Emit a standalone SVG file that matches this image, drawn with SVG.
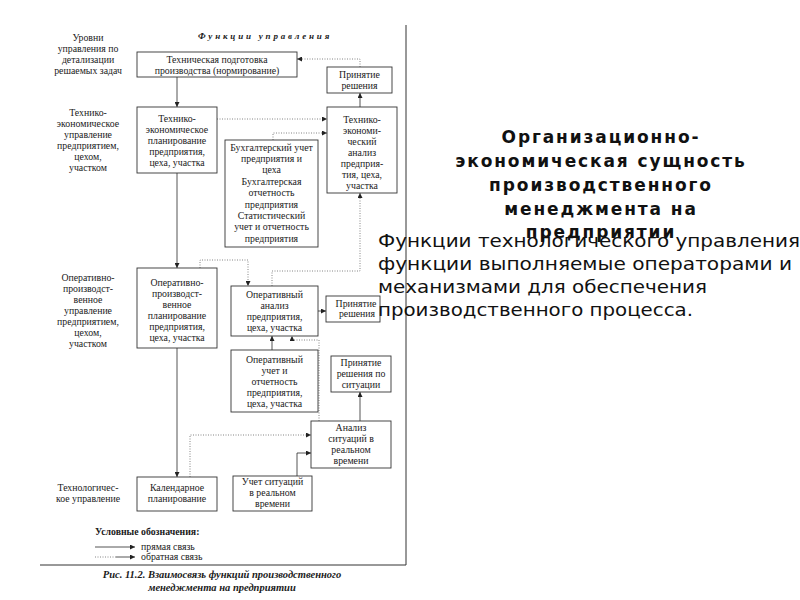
<svg xmlns="http://www.w3.org/2000/svg" width="800" height="600" viewBox="0 0 800 600">
<style>
.bx{fill:#fff;stroke:#333;stroke-width:0.9}
.t{font-family:"Liberation Serif",serif;font-size:9.8px;fill:#1a1a1a;text-anchor:middle}
.lbl{font-family:"Liberation Serif",serif;font-size:9.8px;fill:#1a1a1a;text-anchor:middle}
.s{fill:none;stroke:#2a2a2a;stroke-width:0.8}
.d{fill:none;stroke:#666;stroke-width:0.8;stroke-dasharray:1 1.5}
.h{font-family:"DejaVu Sans",sans-serif;font-weight:bold;font-size:17px;fill:#111;text-anchor:middle}
.b{font-family:"DejaVu Sans",sans-serif;font-size:18px;fill:#111}
</style>
<defs>
<marker id="a" viewBox="0 0 6 6" refX="6" refY="3" markerWidth="5" markerHeight="5" orient="auto" markerUnits="userSpaceOnUse">
<path d="M0,0 L6,3 L0,6 z" fill="#222"/>
</marker>
</defs>
<rect width="800" height="600" fill="#fff"/>

<g id="frame">
<line x1="406" y1="25" x2="406" y2="565" stroke="#333" stroke-width="1"/>
<line x1="40" y1="565" x2="406" y2="565" stroke="#333" stroke-width="1"/>
</g>

<g id="levels">
<text class="lbl"><tspan x="88" y="40.5">Уровни</tspan><tspan x="88" y="51.5">управления по</tspan><tspan x="88" y="62.5">детализации</tspan><tspan x="88" y="73.5">решаемых задач</tspan></text>
<text class="lbl"><tspan x="88" y="115.5">Технико-</tspan><tspan x="88" y="126.5">экономическое</tspan><tspan x="88" y="137.5">управление</tspan><tspan x="88" y="148.5">предприятием,</tspan><tspan x="88" y="159.5">цехом,</tspan><tspan x="88" y="170.5">участком</tspan></text>
<text class="lbl"><tspan x="88" y="281">Оперативно-</tspan><tspan x="88" y="292">производст-</tspan><tspan x="88" y="303">венное</tspan><tspan x="88" y="314">управление</tspan><tspan x="88" y="325">предприятием,</tspan><tspan x="88" y="336">цехом,</tspan><tspan x="88" y="347">участком</tspan></text>
<text class="lbl"><tspan x="88" y="490.5">Технологичес-</tspan><tspan x="88" y="501.5">кое управление</tspan></text>
<text x="265" y="39" font-family="Liberation Serif,serif" font-size="9" font-style="italic" font-weight="bold" fill="#222" text-anchor="middle" letter-spacing="2.8">Функции управления</text>
</g>

<g id="connectors">
<path class="s" d="M177,77 V107" marker-end="url(#a)"/>
<path class="d" d="M217,119 H327" marker-end="url(#a)"/>
<path class="d" d="M273,140 V133 H327" marker-end="url(#a)"/>
<path class="s" d="M360,107 V93" marker-end="url(#a)"/>
<path class="d" d="M360,67 V59 H297" marker-end="url(#a)"/>
<path class="s" d="M177,173 V268" marker-end="url(#a)"/>
<path class="d" d="M200,268 V260 H248 V286" marker-end="url(#a)"/>
<path class="d" d="M272,286 V271 H360 V193" marker-end="url(#a)"/>
<path class="s" d="M318,311 H326" marker-end="url(#a)"/>
<path class="s" d="M272,350 V336" marker-end="url(#a)"/>
<path class="d" d="M319,421 V340 H292 V336" marker-end="url(#a)"/>
<path class="s" d="M360,421 V392" marker-end="url(#a)"/>
<path class="d" d="M190,477 V435 H311" marker-end="url(#a)"/>
<path class="s" d="M297,476 V453 H311" marker-end="url(#a)"/>
<path class="s" d="M177,348 V477" marker-end="url(#a)"/>
</g>

<g id="n-tech-prep">
<rect class="bx" x="137" y="52" width="160" height="25"/>
<text class="t"><tspan x="217" y="62.5">Техническая подготовка</tspan><tspan x="217" y="73.5">производства (нормирование)</tspan></text>
</g>
<g id="n-decision-1">
<rect class="bx" x="327" y="67" width="65" height="26"/>
<text class="t"><tspan x="359.5" y="78">Принятие</tspan><tspan x="359.5" y="89">решения</tspan></text>
</g>
<g id="n-te-plan">
<rect class="bx" x="137" y="107" width="80" height="66"/>
<text class="t"><tspan x="177" y="121.5">Технико-</tspan><tspan x="177" y="132.7">экономическое</tspan><tspan x="177" y="143.9">планирование</tspan><tspan x="177" y="155.1">предприятия,</tspan><tspan x="177" y="166.3">цеха, участка</tspan></text>
</g>
<g id="n-te-analysis">
<rect class="bx" x="327" y="107" width="70" height="86"/>
<text class="t"><tspan x="362" y="122.5">Технико-</tspan><tspan x="362" y="133.5">экономи-</tspan><tspan x="362" y="144.5">ческий</tspan><tspan x="362" y="155.5">анализ</tspan><tspan x="362" y="166.5">предприя-</tspan><tspan x="362" y="177.5">тия, цеха,</tspan><tspan x="362" y="188.5">участка</tspan></text>
</g>
<g id="n-accounting">
<rect class="bx" x="225" y="140" width="93" height="107"/>
<text class="t"><tspan x="271.5" y="150.5">Бухгалтерский учет</tspan><tspan x="271.5" y="161.9">предприятия и</tspan><tspan x="271.5" y="173.3">цеха</tspan><tspan x="271.5" y="184.7">Бухгалтерская</tspan><tspan x="271.5" y="196.1">отчетность</tspan><tspan x="271.5" y="207.5">предприятия</tspan><tspan x="271.5" y="218.9">Статистический</tspan><tspan x="271.5" y="230.3">учет и отчетность</tspan><tspan x="271.5" y="241.7">предприятия</tspan></text>
</g>
<g id="n-op-plan">
<rect class="bx" x="137" y="268" width="80" height="80"/>
<text class="t"><tspan x="177" y="285.5">Оперативно-</tspan><tspan x="177" y="296.5">производст-</tspan><tspan x="177" y="307.5">венное</tspan><tspan x="177" y="318.5">планирование</tspan><tspan x="177" y="329.5">предприятия,</tspan><tspan x="177" y="340.5">цеха, участка</tspan></text>
</g>
<g id="n-op-analysis">
<rect class="bx" x="231" y="286" width="87" height="50"/>
<text class="t"><tspan x="274.5" y="297.5">Оперативный</tspan><tspan x="274.5" y="308.5">анализ</tspan><tspan x="274.5" y="319.5">предприятия,</tspan><tspan x="274.5" y="330.5">цеха, участка</tspan></text>
</g>
<g id="n-decision-2">
<rect class="bx" x="326" y="296" width="54" height="26"/>
<text class="t"><tspan x="356" y="306.5">Принятие</tspan><tspan x="357" y="317">решения</tspan></text>
</g>
<g id="n-op-accounting">
<rect class="bx" x="231" y="350" width="87" height="62"/>
<text class="t"><tspan x="274.5" y="362.5">Оперативный</tspan><tspan x="274.5" y="373.5">учет и</tspan><tspan x="274.5" y="384.5">отчетность</tspan><tspan x="274.5" y="395.5">предприятия,</tspan><tspan x="274.5" y="406.5">цеха, участка</tspan></text>
</g>
<g id="n-decision-3">
<rect class="bx" x="331" y="356" width="60" height="36"/>
<text class="t"><tspan x="361" y="366">Принятие</tspan><tspan x="361" y="377">решения по</tspan><tspan x="361" y="388">ситуации</tspan></text>
</g>
<g id="n-rt-analysis">
<rect class="bx" x="311" y="421" width="80" height="47"/>
<text class="t"><tspan x="351" y="431">Анализ</tspan><tspan x="351" y="442">ситуаций в</tspan><tspan x="351" y="453">реальном</tspan><tspan x="351" y="464">времени</tspan></text>
</g>
<g id="n-calendar">
<rect class="bx" x="137" y="477" width="80" height="34"/>
<text class="t"><tspan x="177" y="490.5">Календарное</tspan><tspan x="177" y="501.5">планирование</tspan></text>
</g>
<g id="n-rt-accounting">
<rect class="bx" x="233" y="476" width="79" height="35"/>
<text class="t"><tspan x="272.5" y="485">Учет ситуаций</tspan><tspan x="272.5" y="496">в реальном</tspan><tspan x="272.5" y="507">времени</tspan></text>
</g>

<g id="legend">
<text x="95" y="535" font-family="Liberation Serif,serif" font-size="9.8" font-weight="bold" fill="#1a1a1a">Условные обозначения:</text>
<path class="s" d="M95,547 H135" marker-end="url(#a)"/>
<path class="d" d="M95,557 H116"/>
<path class="s" d="M116,557 H135" marker-end="url(#a)"/>
<text x="141" y="550" font-family="Liberation Serif,serif" font-size="9.8" fill="#1a1a1a">прямая связь</text>
<text x="141" y="560" font-family="Liberation Serif,serif" font-size="9.8" fill="#1a1a1a">обратная связь</text>
<text font-family="Liberation Serif,serif" font-size="10.5" font-style="italic" font-weight="bold" fill="#1a1a1a" text-anchor="middle"><tspan x="222" y="578">Рис. 11.2. Взаимосвязь функций производственного</tspan><tspan x="222" y="591">менеджмента на предприятии</tspan></text>
</g>

<g id="slide-text">
<text class="h" letter-spacing="1.9"><tspan x="601" y="143">Организационно-</tspan><tspan x="601" y="167">экономическая сущность</tspan><tspan x="601" y="191">производственного</tspan><tspan x="601" y="215">менеджмента на</tspan><tspan x="601" y="238">предприятии</tspan></text>
<text class="b" x="378" y="247" textLength="422" lengthAdjust="spacingAndGlyphs">Функции технологического управления</text>
<text class="b" x="378" y="270" textLength="414" lengthAdjust="spacingAndGlyphs">функции выполняемые операторами и</text>
<text class="b" x="378" y="293" textLength="329" lengthAdjust="spacingAndGlyphs">механизмами для обеспечения</text>
<text class="b" x="378" y="316" textLength="315" lengthAdjust="spacingAndGlyphs">производственного процесса.</text>
</g>
</svg>
